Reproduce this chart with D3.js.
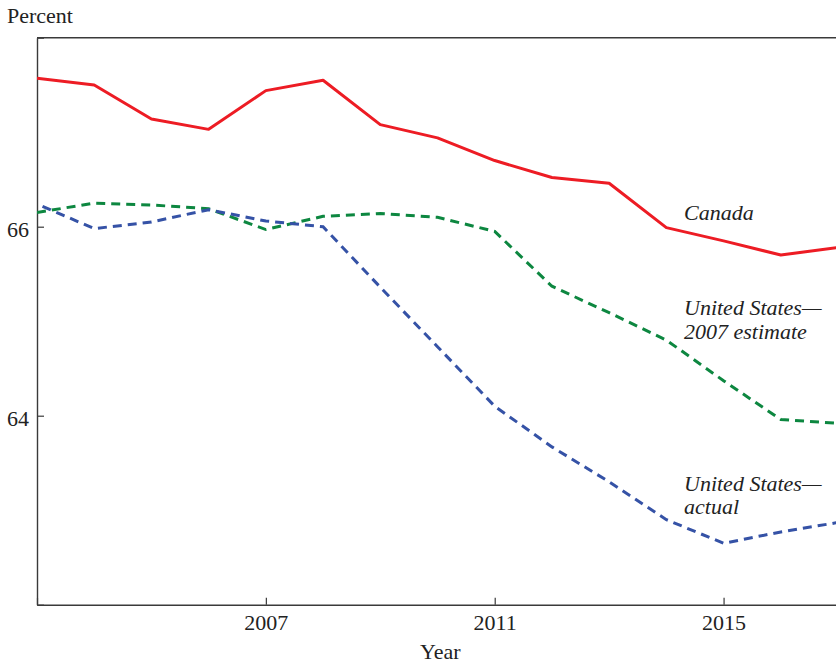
<!DOCTYPE html>
<html>
<head>
<meta charset="utf-8">
<script src="https://cdn.jsdelivr.net/npm/d3@7"></script>
<style>
  html, body { margin: 0; padding: 0; background: #fff; }
  svg { display: block; }
  text { font-family: "Liberation Serif", "DejaVu Serif", serif; fill: #222; }
</style>
</head>
<body>
<svg id="chart" width="836" height="663"></svg>
<script>
// Labour force participation rate, percent, 2003–2017
const years = [2003, 2004, 2005, 2006, 2007, 2008, 2009, 2010, 2011, 2012, 2013, 2014, 2015, 2016, 2017];
const canada = [67.57, 67.50, 67.14, 67.03, 67.44, 67.55, 67.08, 66.94, 66.70, 66.52, 66.46, 65.99, 65.85, 65.70, 65.78];
const usEstimate2007 = [66.15, 66.25, 66.23, 66.19, 65.97, 66.11, 66.14, 66.10, 65.95, 65.37, 65.09, 64.80, 64.37, 63.96, 63.92];
const usActual = [66.24, 65.98, 66.05, 66.18, 66.06, 66.00, 65.36, 64.73, 64.10, 63.67, 63.30, 62.90, 62.65, 62.77, 62.87];

const yTicks = [62, 64, 66, 68];
const yTickLabels = ["", "64", "66", ""];
const xTicks = [2003, 2007, 2011, 2015];
const xTickLabels = ["", "2007", "2011", "2015"];

const seriesNames = ["Canada", "United States—2007 estimate", "United States—actual"];

const svg = d3.select("#chart");
const W = 836, H = 663;
const plotLeft = 37, plotTop = 37.7, plotBottom = 604.7, plotRight = 838;

const x = d3.scaleLinear().domain([2003, 2017]).range([plotLeft, plotRight]);
const y = d3.scaleLinear().domain([62, 68]).range([plotBottom, plotTop]);

svg.append("defs").append("clipPath").attr("id", "plot")
  .append("rect").attr("x", plotLeft).attr("y", plotTop - 2)
  .attr("width", plotRight - plotLeft).attr("height", plotBottom - plotTop + 4);

const axisColor = "#3a3a3a";

// Left axis with inward ticks
const yAxis = svg.append("g").attr("transform", `translate(${plotLeft},0)`)
  .call(d3.axisLeft(y).tickValues(yTicks).tickSizeInner(-7).tickSizeOuter(0).tickPadding(8)
    .tickFormat((d, i) => yTickLabels[i]));
yAxis.select(".domain").attr("stroke", axisColor).attr("stroke-width", 1.4);
yAxis.selectAll(".tick line").attr("stroke", axisColor).attr("stroke-width", 1.2);
yAxis.selectAll(".tick text").attr("font-size", 22).attr("dy", "0.45em")
  .style("font-family", '"Liberation Serif", serif').attr("fill", "#222");

// Bottom axis with inward ticks
const xAxis = svg.append("g").attr("transform", `translate(0,${plotBottom})`)
  .call(d3.axisBottom(x).tickValues(xTicks).tickSizeInner(-7).tickSizeOuter(0).tickPadding(10)
    .tickFormat((d, i) => xTickLabels[i]));
xAxis.select(".domain").attr("stroke", axisColor).attr("stroke-width", 1.4);
xAxis.selectAll(".tick line").attr("stroke", axisColor).attr("stroke-width", 1.2);
xAxis.selectAll(".tick text").attr("font-size", 22)
  .style("font-family", '"Liberation Serif", serif').attr("fill", "#222");

// Top frame line
svg.append("line").attr("x1", plotLeft).attr("x2", W).attr("y1", plotTop).attr("y2", plotTop)
  .attr("stroke", axisColor).attr("stroke-width", 1.4);

const line = d3.line().x((d, i) => x(years[i])).y(d => y(d));
const g = svg.append("g").attr("clip-path", "url(#plot)");

g.append("path").datum(canada).attr("d", line)
  .attr("fill", "none").attr("stroke", "#ed1c24").attr("stroke-width", 3).attr("stroke-linejoin", "round");

g.append("path").datum(usEstimate2007).attr("d", line)
  .attr("fill", "none").attr("stroke", "#0d8740").attr("stroke-width", 3)
  .attr("stroke-dasharray", "9,6");

g.append("path").datum(usActual).attr("d", line)
  .attr("fill", "none").attr("stroke", "#3552a6").attr("stroke-width", 3)
  .attr("stroke-dasharray", "9,6").attr("stroke-dashoffset", 9);

// Series labels
const labels = [
  { lines: ["Canada"], x: 684, y: 220 },
  { lines: ["United States—", "2007 estimate"], x: 684, y: 315 },
  { lines: ["United States—", "actual"], x: 684, y: 490.5 }
];
labels.forEach((l, k) => {
  const t = svg.append("text").attr("x", l.x).attr("y", l.y)
    .attr("font-size", 22).attr("font-style", "italic").attr("data-series", seriesNames[k]);
  l.lines.forEach((s, j) => {
    t.append("tspan").attr("x", l.x).attr("dy", j === 0 ? 0 : 23.5).text(s);
  });
});

// Axis titles
svg.append("text").attr("x", 7).attr("y", 22.5).attr("font-size", 22).text("Percent");
svg.append("text").attr("x", 420).attr("y", 659).attr("font-size", 22).text("Year");
</script>
</body>
</html>
